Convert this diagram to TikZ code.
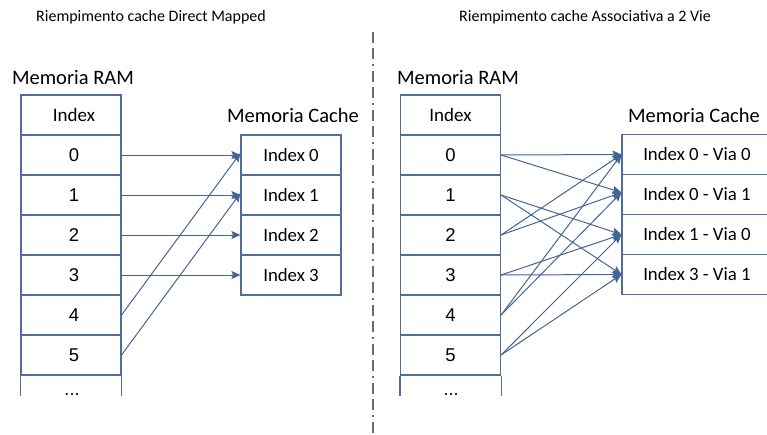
\documentclass[tikz,border=0pt]{standalone}
\usepackage{fontspec}
\setmainfont{Carlito}
\newfontfamily\digitfont{Liberation Sans}
\usetikzlibrary{arrows.meta}
\definecolor{boxblue}{RGB}{79,110,158}
\definecolor{arrowblue}{RGB}{68,100,150}
\definecolor{sepgray}{RGB}{95,108,135}
\begin{document}
\begin{tikzpicture}[x=1pt,y=-1pt,
  cell/.style={draw=boxblue,line width=1.1pt,minimum width=100pt,minimum height=40pt,inner sep=0pt,text=black},
  ramcell/.style={cell,font=\digitfont\fontsize{18.5}{20}\selectfont},
  headcell/.style={cell,font=\fontsize{19}{21}\selectfont},
  cachecell/.style={cell,font=\fontsize{18.8}{21}\selectfont},
  shifted/.style={execute at begin node={\hspace*{6pt}}},
  heading/.style={font=\fontsize{20.5}{24}\selectfont,inner sep=0pt},
  caption/.style={font=\fontsize{16}{18}\selectfont,inner sep=0pt},
  dotsfont/.style={font=\digitfont\fontsize{18}{20}\selectfont,inner sep=0pt,anchor=base},
  boxedge/.style={draw=boxblue,line width=1.1pt},
  link/.style={draw=arrowblue,line width=1pt,-{Stealth[length=9pt,width=8pt,inset=1.5pt]}},
]
\useasboundingbox (0,0) rectangle (767,434);
\clip (0,0) rectangle (767,434);

% ---------------- Direct mapped ----------------
\node[caption] (ttl) at (151,17) {Riempimento cache Direct Mapped};
\node[heading] (lram) at (73,78) {Memoria RAM};
\node[heading] (lcache) at (293,115) {Memoria Cache};

\node[headcell,shifted] (lh) at (71,115) {Index};
\node[ramcell,shifted] (l0) at (71,155) {0};
\node[ramcell,shifted] (l1) at (71,195) {1};
\node[ramcell,shifted] (l2) at (71,235) {2};
\node[ramcell,shifted] (l3) at (71,275) {3};
\node[ramcell,shifted] (l4) at (71,315) {4};
\node[ramcell,shifted] (l5) at (71,355) {5};
\node[dotsfont] (ldots) at (72,395) {...};
\draw[boxedge] (l5.south west) -- ++(0,20);
\draw[boxedge] (l5.south east) -- ++(0,20);

\node[cachecell] (c0) at (291,155) {Index 0};
\node[cachecell] (c1) at (291,195) {Index 1};
\node[cachecell] (c2) at (291,235) {Index 2};
\node[cachecell] (c3) at (291,275) {Index 3};

\draw[link] (l0.east) -- (c0.west);
\draw[link] (l1.east) -- (c1.west);
\draw[link] (l2.east) -- (c2.west);
\draw[link] (l3.east) -- (c3.west);
\draw[link] (l4.east) -- ([yshift=2pt]c0.west);
\draw[link] (l5.east) -- ([yshift=2pt]c1.west);

% ---------------- separator ----------------
\draw[sepgray,line width=1.2pt,dash pattern=on 11pt off 5pt on 11pt off 5pt on 2pt off 5pt] (373,32) -- (373,434);

% ---------------- 2-way set associative ----------------
\node[caption] (ttr) at (585,17) {Riempimento cache Associativa a 2 Vie};
\node[heading] (rram) at (458,78) {Memoria RAM};
\node[heading] (rcache) at (694,115) {Memoria Cache};

\node[headcell] (rh) at (450.5,115) {Index};
\node[ramcell] (r0) at (450.5,155) {0};
\node[ramcell] (r1) at (450.5,195) {1};
\node[ramcell] (r2) at (450.5,235) {2};
\node[ramcell] (r3) at (450.5,275) {3};
\node[ramcell] (r4) at (450.5,315) {4};
\node[ramcell] (r5) at (450.5,355) {5};
\node[dotsfont] (rdots) at (451,395) {...};
\draw[boxedge] (r5.south west) -- ++(0,20);
\draw[boxedge] (r5.south east) -- ++(0,20);

\node[cachecell,minimum width=150pt] (d0) at (697,154.5) {Index 0 - Via 0};
\node[cachecell,minimum width=150pt] (d1) at (697,194.5) {Index 0 - Via 1};
\node[cachecell,minimum width=150pt] (d2) at (697,234.5) {Index 1 - Via 0};
\node[cachecell,minimum width=150pt] (d3) at (697,274.5) {Index 3 - Via 1};

\draw[link] (r0.east) -- (d0.west);
\draw[link] (r0.east) -- ([yshift=2pt]d1.west);
\draw[link] (r1.east) -- (d2.west);
\draw[link] (r1.east) -- (d3.west);
\draw[link] (r2.east) -- (d0.west);
\draw[link] (r2.east) -- ([yshift=2pt]d1.west);
\draw[link] (r3.east) -- (d2.west);
\draw[link] (r3.east) -- (d3.west);
\draw[link] (r4.east) -- (d0.west);
\draw[link] (r4.east) -- ([yshift=2pt]d1.west);
\draw[link] (r5.east) -- (d2.west);
\draw[link] (r5.east) -- (d3.west);
\end{tikzpicture}
\end{document}
